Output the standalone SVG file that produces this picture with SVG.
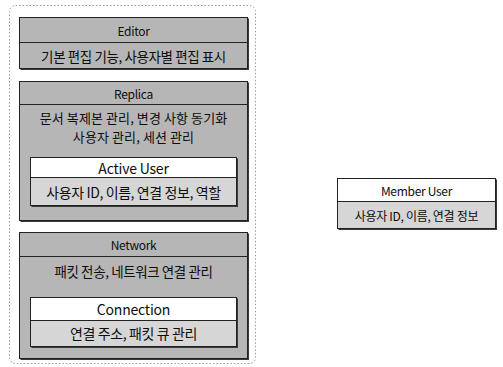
<svg xmlns="http://www.w3.org/2000/svg" width="503" height="367" viewBox="0 0 503 367">
  <style>
    .frame { fill: none; stroke: #9a9a9a; stroke-width: 1; stroke-dasharray: 1.5 2; }
    .shadow { fill: #3a3a3a; }
    .box { fill: #b6b6b6; stroke: #222; stroke-width: 1; }
    .inner { fill: #d6d6d6; stroke: #222; stroke-width: 1; }
    .head { fill: #ffffff; stroke: #222; stroke-width: 1; }
    .rule { stroke: #222; stroke-width: 1; }
    text { font-family: "Noto Sans CJK KR", "Noto Sans", sans-serif; font-size: 12px; fill: #0d0d0d; text-anchor: middle; dominant-baseline: central; letter-spacing: -0.3px; }
    .ko { font-size: 14px; letter-spacing: -0.4px; }
    .ko-s { font-size: 13.5px; letter-spacing: -0.4px; }
    .ko-t { font-size: 13px; letter-spacing: 0.1px; }
    .sub { font-size: 14px; letter-spacing: -0.2px; }
  </style>

  <!-- dotted outline around the client-side stack -->
  <rect class="frame" x="9.5" y="5.5" width="246" height="358" rx="6"/>

  <g id="editor">
    <rect class="shadow" x="20.5" y="18.5" width="228.5" height="51.5"/>
    <rect class="box" x="19.5" y="17.5" width="228" height="51"/>
    <line class="rule" x1="19.5" y1="42.5" x2="247.5" y2="42.5"/>
    <text x="133.5" y="30">Editor</text>
    <text class="ko-s" x="133.5" y="56">기본 편집 기능, 사용자별 편집 표시</text>
  </g>

  <g id="replica">
    <rect class="shadow" x="20.5" y="82.5" width="228.5" height="139.5"/>
    <rect class="box" x="19.5" y="81.5" width="228" height="139"/>
    <line class="rule" x1="19.5" y1="104.5" x2="247.5" y2="104.5"/>
    <text x="133.5" y="93">Replica</text>
    <text class="ko-t" x="133.5" y="117">문서 복제본 관리, 변경 사항 동기화</text>
    <text class="ko-t" x="133.5" y="136">사용자 관리, 세션 관리</text>
    <g id="active-user">
      <rect class="shadow" x="31.5" y="158.5" width="206.5" height="48.5"/>
      <rect class="inner" x="30.5" y="157.5" width="206" height="48"/>
      <rect class="head" x="30.5" y="157.5" width="206" height="20"/>
      <text class="sub" x="133.5" y="168">Active User</text>
      <text class="ko" x="133.5" y="192">사용자 ID, 이름, 연결 정보, 역할</text>
    </g>
  </g>

  <g id="network">
    <rect class="shadow" x="20.5" y="233.5" width="228.5" height="126.5"/>
    <rect class="box" x="19.5" y="232.5" width="228" height="126"/>
    <line class="rule" x1="19.5" y1="256.5" x2="247.5" y2="256.5"/>
    <text x="133.5" y="244">Network</text>
    <text class="ko-s" x="133.5" y="271">패킷 전송, 네트워크 연결 관리</text>
    <g id="connection">
      <rect class="shadow" x="31.5" y="298.5" width="206.5" height="49.5"/>
      <rect class="inner" x="30.5" y="297.5" width="206" height="49"/>
      <rect class="head" x="30.5" y="297.5" width="206" height="23"/>
      <text class="sub" x="133.5" y="309">Connection</text>
      <text class="ko" x="133.5" y="333">연결 주소, 패킷 큐 관리</text>
    </g>
  </g>

  <g id="member-user">
    <rect class="shadow" x="338.5" y="179.5" width="158.5" height="50.5"/>
    <rect class="inner" x="337.5" y="178.5" width="158" height="50"/>
    <rect class="head" x="337.5" y="178.5" width="158" height="23"/>
    <text x="416.5" y="190">Member User</text>
    <text x="416.5" y="215">사용자 ID, 이름, 연결 정보</text>
  </g>

  <g id="connectors"/>
</svg>
